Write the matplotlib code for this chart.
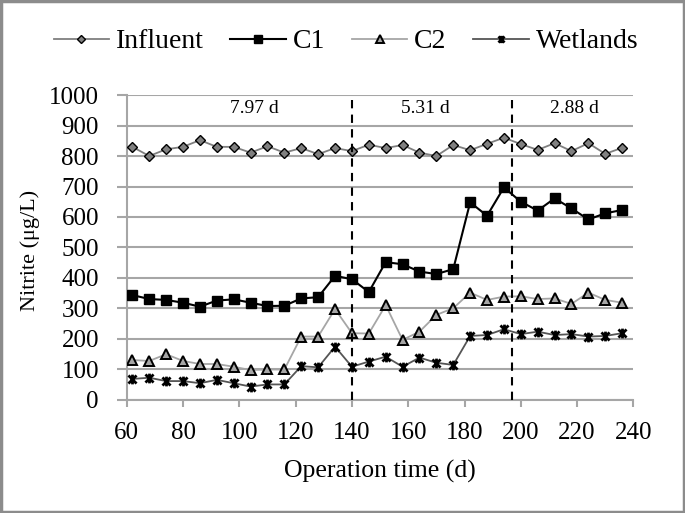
import matplotlib
matplotlib.use("Agg")
import matplotlib.pyplot as plt
from matplotlib.path import Path
from matplotlib.patches import Rectangle

plt.rcParams['font.family'] = ['Liberation Serif', 'DejaVu Serif']

days = [62, 68, 74, 80, 86, 92, 98, 104, 110, 116, 122, 128, 134, 140, 146,
        152, 158, 164, 170, 176, 182, 188, 194, 200, 206, 212, 218, 224, 230, 236]
influent = [830, 800, 822, 830, 852, 830, 830, 811, 832, 811, 826, 806, 826, 816, 837,
            826, 836, 811, 800, 836, 819, 840, 860, 839, 820, 842, 816, 842, 807, 827]
c1 = [344, 331, 328, 319, 306, 326, 330, 319, 308, 309, 333, 337, 407, 396, 354,
      452, 445, 421, 413, 429, 648, 604, 697, 650, 621, 661, 628, 592, 612, 623]
c2 = [131, 128, 150, 128, 118, 118, 109, 98, 100, 100, 208, 208, 298, 219, 218,
      311, 197, 224, 279, 301, 352, 328, 339, 340, 331, 333, 315, 352, 328, 319]
wetlands = [69, 73, 62, 62, 55, 66, 55, 44, 51, 51, 111, 107, 175, 109, 126,
            142, 109, 139, 122, 115, 210, 213, 232, 216, 224, 213, 216, 208, 210, 219]

phase_bounds = [140, 197]
phase_labels = ["7.97 d", "5.31 d", "2.88 d"]
phase_label_x = [105.5, 166, 219]
yticks = [0, 100, 200, 300, 400, 500, 600, 700, 800, 900, 1000]
xticks = [60, 80, 100, 120, 140, 160, 180, 200, 220, 240]

star = Path([(-1, -1), (1, 1), (-1, 1), (1, -1), (0, -1.2), (0, 1.2)],
            [Path.MOVETO, Path.LINETO, Path.MOVETO, Path.LINETO, Path.MOVETO, Path.LINETO])

fig = plt.figure(figsize=(6.85, 5.13), dpi=100)
ax = fig.add_axes([0.185, 0.2203, 0.7397, 0.5945])

grid_c = '#a6a6a6'
ax.set_axisbelow(True)
ax.yaxis.grid(True, color=grid_c, linewidth=1.5)

ax.plot(days, influent, color='#7f7f7f', lw=1.3, marker='D', ms=5.5,
        mfc='#808080', mec='black', mew=1.0, label='Influent', zorder=3)
ax.plot(days, c1, color='black', lw=1.5, marker='s', ms=7.5,
        mfc='black', mec='black', label='C1', zorder=4)
ax.plot(days, c2, color='#a6a6a6', lw=1.3, marker='^', ms=7,
        mfc='#a6a6a6', mec='black', mew=1.4, label='C2', zorder=3)
ax.plot(days, wetlands, color='#555555', lw=1.3, marker=star, ms=7,
        mec='black', mew=2.0, label='Wetlands', zorder=3)

for b in phase_bounds:
    ax.axvline(b, ymin=0, ymax=1, color='black', lw=1.5, ls=(0, (4, 3)), zorder=5)

for lbl, xx in zip(phase_labels, phase_label_x):
    ax.text(xx, 955, lbl, ha='center', va='center', fontsize=14)

ax.set_xlim(60, 240)
ax.set_ylim(0, 1000)
ax.set_xticks(xticks)
ax.set_yticks(yticks)
for s in ['top', 'right']:
    ax.spines[s].set_visible(False)
for s in ['left', 'bottom']:
    ax.spines[s].set_color(grid_c)
    ax.spines[s].set_linewidth(1.5)
ax.tick_params(axis='y', length=7, width=1.5, color=grid_c, pad=13, labelsize=18)
ax.tick_params(axis='x', length=5, width=1.5, color=grid_c, pad=11, labelsize=18)

ax.set_ylabel('Nitrite (μg/L)', fontsize=16)
ax.yaxis.set_label_coords(-0.172, 0.49)
ax.set_xlabel('Operation time (d)', fontsize=18.5, labelpad=11)

fig.legend(loc='center', bbox_to_anchor=(0.505, 0.919), ncol=4, frameon=False,
           fontsize=20, handlelength=2.0, columnspacing=0.95, handletextpad=0.25,
           markerscale=0.75)

fig.patches.append(Rectangle((0.002, 0.002), 0.996, 0.996, transform=fig.transFigure,
                             fill=False, edgecolor='#8c8c8c', linewidth=2.5))

fig.savefig('out.png', dpi=100)
